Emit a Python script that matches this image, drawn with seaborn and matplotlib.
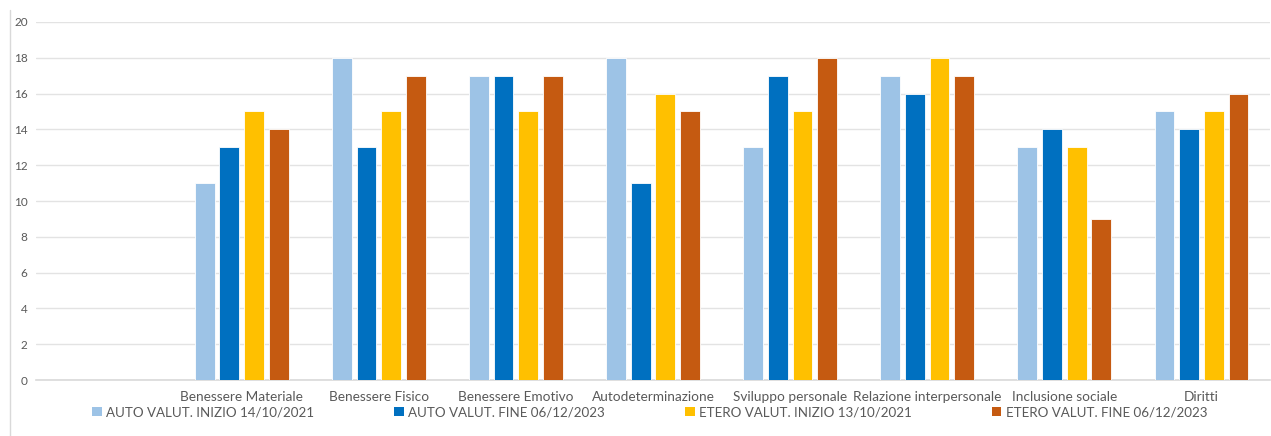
import numpy as np
import pandas as pd
import matplotlib
matplotlib.use("Agg")
import matplotlib.pyplot as plt
from matplotlib.lines import Line2D
import seaborn as sns

# Domains (the first slot is intentionally left blank)
categories = ["", "Benessere Materiale", "Benessere Fisico", "Benessere Emotivo",
              "Autodeterminazione", "Sviluppo personale", "Relazione interpersonale",
              "Inclusione sociale", "Diritti"]
scored = categories[1:]

series_names = ["AUTO VALUT. INIZIO 14/10/2021", "AUTO VALUT. FINE 06/12/2023",
                "ETERO VALUT. INIZIO 13/10/2021", "ETERO VALUT. FINE 06/12/2023"]

auto_inizio = [11, 18, 17, 18, 13, 17, 13, 15]
auto_fine = [13, 13, 17, 11, 17, 16, 14, 14]
etero_inizio = [15, 15, 15, 16, 15, 18, 13, 15]
etero_fine = [14, 17, 17, 15, 18, 17, 9, 16]

colors = ["#9DC3E6", "#0070C0", "#FFC000", "#C55A11"]
y_ticks = list(range(0, 21, 2))

frames = []
for name, vals in zip(series_names, [auto_inizio, auto_fine, etero_inizio, etero_fine]):
    frames.append(pd.DataFrame({"Dominio": scored, "Serie": name, "Punteggio": vals}))
df = pd.concat(frames, ignore_index=True)

sns.set_theme(style="white")
plt.rcParams["font.family"] = ["Lato", "DejaVu Sans"]

fig = plt.figure(figsize=(12.71, 4.36), dpi=100)
ax = fig.add_axes([36 / 1271, 1 - 380 / 436, 1 - 36 / 1271 - 1 / 1271, (380 - 22) / 436])

sns.barplot(data=df, x="Dominio", y="Punteggio", hue="Serie", order=categories,
            hue_order=series_names, palette=colors, width=0.72, gap=0.2,
            edgecolor="white", linewidth=0.6, errorbar=None, ax=ax, legend=False,
            saturation=1, zorder=3)

ax.set_ylim(0, 20)
ax.set_xlim(-0.5, len(categories) - 0.5)
ax.set_yticks(y_ticks)
ax.set_yticklabels([str(t) for t in y_ticks], fontsize=8.5, color="#595959")
ax.tick_params(axis="y", length=0, pad=6)
ax.tick_params(axis="x", length=0, pad=8, labelsize=9.8, labelcolor="#595959")
ax.set_xlabel("")
ax.set_ylabel("")
ax.grid(axis="y", color="#E3E3E3", linewidth=1.0, zorder=0)
ax.set_axisbelow(True)
for s in ["top", "right", "left"]:
    ax.spines[s].set_visible(False)
ax.spines["bottom"].set_color("#D9D9D9")
ax.spines["bottom"].set_linewidth(1.2)

# Chart frame edge on the left
fig.add_artist(Line2D([10 / 1271, 10 / 1271], [0, 1 - 10 / 436],
                      color="#D9D9D9", linewidth=1.0, transform=fig.transFigure))

handles = [plt.Rectangle((0, 0), 1, 1, facecolor=c, edgecolor="none") for c in colors]
fig.legend(handles, series_names, loc="center", bbox_to_anchor=(650 / 1271, 1 - 412 / 436),
           ncol=4, frameon=False, fontsize=9.6, handlelength=0.7, handleheight=0.7,
           handletextpad=0.35, columnspacing=6.0, labelcolor="#595959")

fig.savefig("out.png", dpi=100, facecolor="white")
